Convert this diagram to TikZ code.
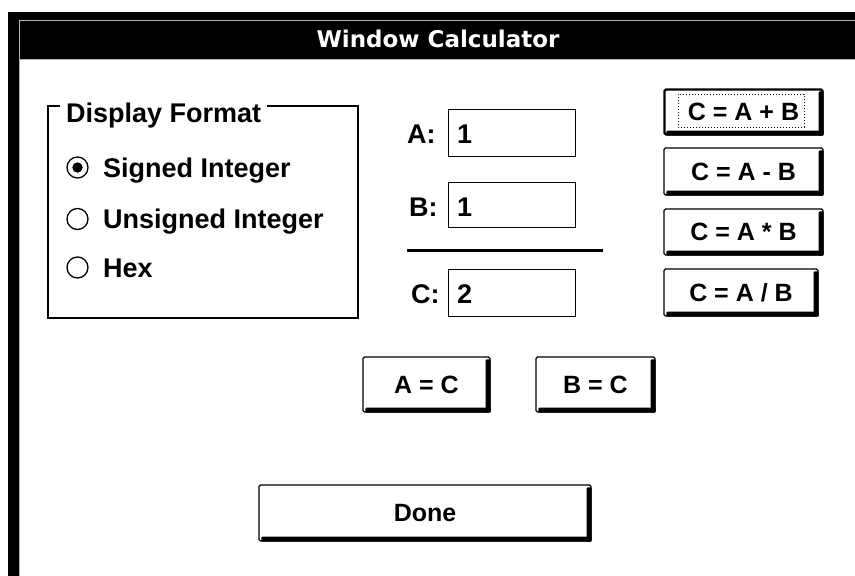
\documentclass[tikz,border=0pt]{standalone}
\usepackage{fontspec}
\setmainfont{Liberation Sans}
\newfontfamily\titlefont{DejaVu Sans}
\begin{document}
\begin{tikzpicture}[x={(1pt,0)},y={(0,-1pt)},
  lbl/.style={anchor=base west,inner sep=0,font=\bfseries\fontsize{27}{27}\selectfont},
  field/.style={draw,line width=1.2pt,anchor=north west,inner sep=0},
  btn/.style={draw,line width=1.4pt,rounded corners=1.5pt,fill=white,inner sep=0,
     font=\bfseries\fontsize{25}{25}\selectfont},
  radio/.style={draw,circle,line width=1.3pt,minimum size=21pt,inner sep=0}]
\useasboundingbox (0,0) rectangle (855,576);
% window frame
\fill[white] (0,0) rectangle (855,576);
\fill[black] (8,12) rectangle (855,576);
\fill[gray!60] (19,20) rectangle (855,576);
\fill[black] (20,21) rectangle (855,59);
\fill[white] (20,60) rectangle (855,576);
\node[anchor=base,inner sep=0,text=white,font=\titlefont\bfseries\fontsize{23}{23}\selectfont] (title) at (438,47) {Window Calculator};
% group box
\node[lbl] (grp) at (66,122) {Display Format};
\coordinate (g1) at (60,106);
\coordinate (g2) at (48,106);
\coordinate (g3) at (48,318);
\coordinate (g4) at (358,318);
\coordinate (g5) at (358,106);
\coordinate (g6) at (267,106);
\draw[line width=1.2pt] (g1) -- (g2) -- (g3) -- (g4) -- (g5) -- (g6);
% radio buttons
\node[radio] (r1) at (77.5,167.5) {};
\fill (r1.center) circle (5.2pt);
\node[radio] (r2) at (77.5,219) {};
\node[radio] (r3) at (77.5,267.5) {};
\node[lbl] (t1) at (103,177) {Signed Integer};
\node[lbl] (t2) at (103,228) {Unsigned Integer};
\node[lbl] (t3) at (103,277) {Hex};
% fields
\node[lbl] (la) at (407,143) {A:};
\node[lbl] (lb) at (409,216) {B:};
\node[lbl] (lc) at (411,303) {C:};
\node[field,minimum width=127pt,minimum height=47pt] (fa) at (448,109) {};
\node[field,minimum width=127pt,minimum height=45pt] (fb) at (448,182) {};
\node[field,minimum width=127pt,minimum height=47pt] (fc) at (448,269) {};
\node[lbl] (va) at (457,143) {1};
\node[lbl] (vb) at (457,216) {1};
\node[lbl] (vc) at (457,303) {2};
\coordinate (s1) at (407,250);
\coordinate (s2) at (603,250);
\draw[line width=3pt] (s1) -- (s2);
% buttons
\node[btn,line width=2.4pt,minimum width=158pt,minimum height=45pt] (add) at (743.5,112) {C = A + B};
\node[btn,minimum width=159pt,minimum height=47pt] (sub) at (743.5,171.5) {C = A - B};
\node[btn,minimum width=159pt,minimum height=46pt] (mul) at (743.5,232) {C = A * B};
\node[btn,minimum width=154pt,minimum height=47pt] (dvd) at (741,292.5) {C = A / B};
\node[btn,minimum width=127pt,minimum height=55pt] (ac) at (426.5,384.5) {A = C};
\node[btn,minimum width=119pt,minimum height=55pt] (bc) at (595.5,384.5) {B = C};
\node[btn,minimum width=332pt,minimum height=56pt] (done) at (425,513) {Done};
\foreach \n in {add,sub,mul,dvd,ac,bc,done}{
  \fill[rounded corners=1pt] ([xshift=-5pt,yshift=-3pt]\n.north east) rectangle (\n.south east);
  \fill[rounded corners=1pt] ([xshift=3pt,yshift=5pt]\n.south west) rectangle (\n.south east);
}
\node[draw,dotted,line width=1pt,minimum width=126pt,minimum height=33pt,inner sep=0] (focus) at (741,110.5) {};
\end{tikzpicture}
\end{document}
